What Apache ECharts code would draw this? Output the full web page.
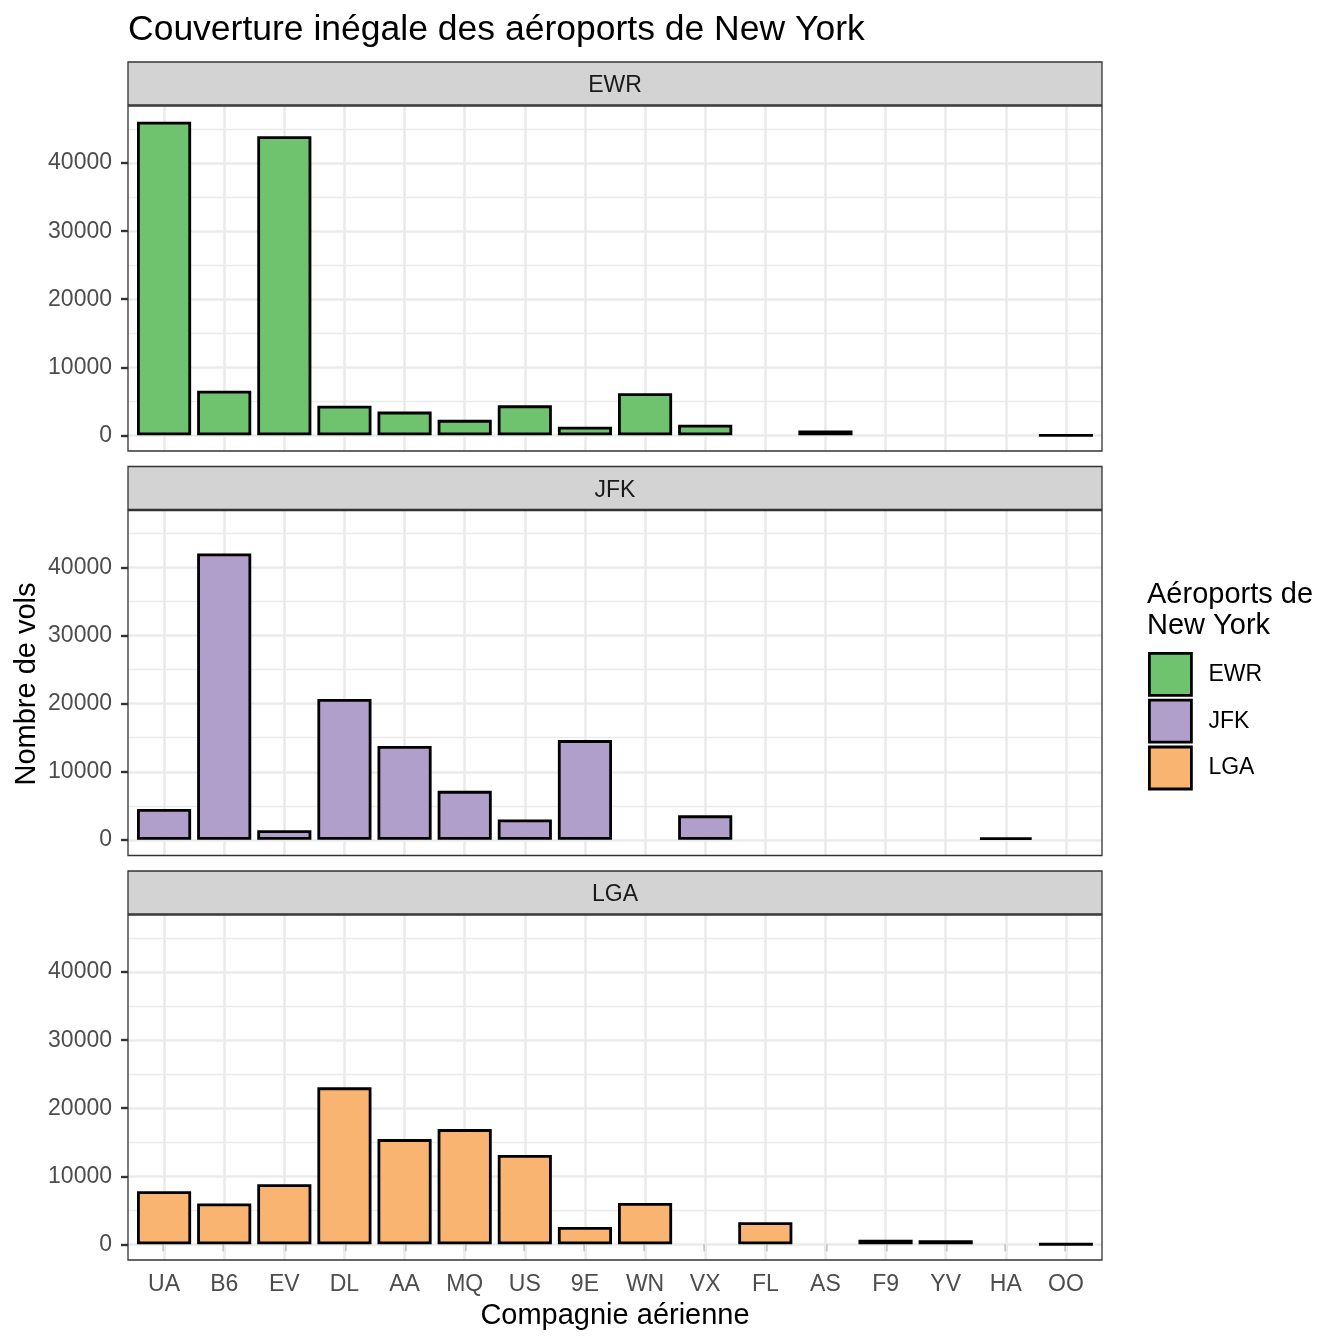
<!DOCTYPE html>
<html><head><meta charset="utf-8">
<script src="https://cdn.jsdelivr.net/npm/echarts@6/dist/echarts.min.js"></script>
<style>html,body{margin:0;padding:0;background:#fff}#c{width:1344px;height:1344px}</style>
</head><body><div id="c"></div>
<script>
// ---- data ----
const carriers = ['UA','B6','EV','DL','AA','MQ','US','9E','WN','VX','FL','AS','F9','YV','HA','OO'];
const airports = ['EWR','JFK','LGA'];
const ewr = [46087, 6557, 43939, 4342, 3487, 2276, 4405, 1268, 6188, 1566, null, 714, null, null, null, 6];
const jfk = [4534, 42076, 1408, 20701, 13783, 7193, 2995, 14651, null, 3596, null, null, null, null, 342, null];
const lga = [7803, 6002, 8826, 23067, 15459, 16928, 13136, 2541, 6087, null, 3260, null, 685, 601, null, 26];
const yMajor = [0, 10000, 20000, 30000, 40000];
const yMinor = [5000, 15000, 25000, 35000, 45000];
const titleText = 'Couverture inégale des aéroports de New York';
const xTitle = 'Compagnie aérienne';
const yTitle = 'Nombre de vols';
const legendTitle = ['Aéroports de', 'New York'];

// ---- styles / layout ----
const colors = ['#70C36E', '#B09ECB', '#F9B472'];
const FONT = '"Liberation Sans", Arial, Helvetica, sans-serif';
const seriesData = [ewr, jfk, lga];
const allVals = seriesData.flat().filter(v => v != null);
const dMax = Math.max(...allVals), dMin = Math.min(0, ...allVals);
const pad = (dMax - dMin) * 0.05;
const yMin = dMin - pad, yMax = dMax + pad;

const PL = 128, PW = 974, PH = 345;
const tops = [106, 510.5, 915];
const nCat = carriers.length;
const unit = PW / (nCat - 1 + 1.2);
const DL = PL + 0.1 * unit, DW = unit * nCat;

const grids = [], xAxes = [], yAxes = [], series = [], graphics = [];
const gridLine = {color: '#EBEBEB', width: 2.6, type: 'solid'};
tops.forEach((T, p) => {
  grids.push({left: PL, top: T, width: PW, height: PH, show: false});
  grids.push({left: DL, top: T, width: DW, height: PH, show: false});
  const last = p === tops.length - 1;
  xAxes.push({gridIndex: 2*p, type: 'value', min: 0, max: 1, show: false});
  xAxes.push({gridIndex: 2*p+1, type: 'category', data: carriers,
    axisLine: {show: false},
    axisTick: {show: last, alignWithLabel: true, length: 7, lineStyle: {color: '#333333', width: 2.4}},
    axisLabel: {show: last, interval: 0, color: '#4D4D4D', fontSize: 23, fontFamily: FONT, margin: 13},
    splitLine: {show: false}});
  yAxes.push({gridIndex: 2*p, type: 'value', min: yMin, max: yMax,
    axisLine: {show: false},
    axisTick: {show: true, length: 7, customValues: yMajor, lineStyle: {color: '#333333', width: 2.4}},
    axisLabel: {show: true, customValues: yMajor, color: '#4D4D4D', fontSize: 23, fontFamily: FONT, margin: 16,
      formatter: v => (yMajor.indexOf(Math.round(v)) >= 0 ? String(Math.round(v)) : '')},
    splitLine: {show: true, lineStyle: gridLine}});
  yAxes.push({gridIndex: 2*p+1, type: 'value', min: yMin, max: yMax, show: false});
  // minor horizontal gridlines
  series.push({type: 'line', xAxisIndex: 2*p, yAxisIndex: 2*p, data: [], silent: true,
    markLine: {silent: true, z: 1, symbol: ['none','none'], label: {show: false},
      lineStyle: {color: '#EBEBEB', width: 1.3, type: 'solid'}, animation: false,
      data: yMinor.map(v => ({yAxis: v}))}});
  // bars + vertical gridlines
  series.push({type: 'bar', name: airports[p], xAxisIndex: 2*p+1, yAxisIndex: 2*p+1,
    data: seriesData[p], barWidth: '90%', z: 3,
    itemStyle: {color: colors[p], borderColor: '#000000', borderWidth: 2.8},
    markLine: {silent: true, z: 1, symbol: ['none','none'], label: {show: false},
      lineStyle: gridLine, animation: false,
      data: carriers.map(c => ({xAxis: c}))}});
  // strip
  graphics.push({type: 'rect', z: 50, shape: {x: PL, y: T - 44, width: PW, height: 43},
    style: {fill: '#D3D3D3', stroke: '#333333', lineWidth: 1.3}});
  graphics.push({type: 'text', z: 51, x: PL + PW/2, y: T - 20,
    style: {text: airports[p], fill: '#1A1A1A', font: '23px ' + FONT, align: 'center', verticalAlign: 'middle'}});
  // panel border
  graphics.push({type: 'rect', z: 60, shape: {x: PL, y: T, width: PW, height: PH},
    style: {fill: 'rgba(0,0,0,0)', stroke: '#333333', lineWidth: 1.3}});
});

graphics.push({type: 'text', x: 128, y: 30, style: {text: titleText, fill: '#000', font: '35.5px ' + FONT, align: 'left', verticalAlign: 'middle'}});
graphics.push({type: 'text', x: PL + PW/2, y: 1316, style: {text: xTitle, fill: '#000', font: '29px ' + FONT, align: 'center', verticalAlign: 'middle'}});
graphics.push({type: 'text', x: 27, y: 684, rotation: Math.PI/2, style: {text: yTitle, fill: '#000', font: '29px ' + FONT, align: 'center', verticalAlign: 'middle'}});
legendTitle.forEach((t, i) => graphics.push({type: 'text', x: 1147, y: 595 + i*31,
  style: {text: t, fill: '#000', font: '29px ' + FONT, align: 'left', verticalAlign: 'middle'}}));

const chart = echarts.init(document.getElementById('c'), null, {renderer: 'canvas'});
chart.setOption({
  animation: false,
  backgroundColor: '#FFFFFF',
  grid: grids, xAxis: xAxes, yAxis: yAxes, series: series,
  legend: {orient: 'vertical', left: 1148, top: 652, padding: 0, itemWidth: 42, itemHeight: 42, itemGap: 2,
    icon: 'rect', selectedMode: false, data: airports,
    itemStyle: {borderColor: '#000000', borderWidth: 2.8},
    textStyle: {fontSize: 23, color: '#000', fontFamily: FONT, padding: [0, 0, 0, 12]}},
  graphic: graphics
});
</script></body></html>
